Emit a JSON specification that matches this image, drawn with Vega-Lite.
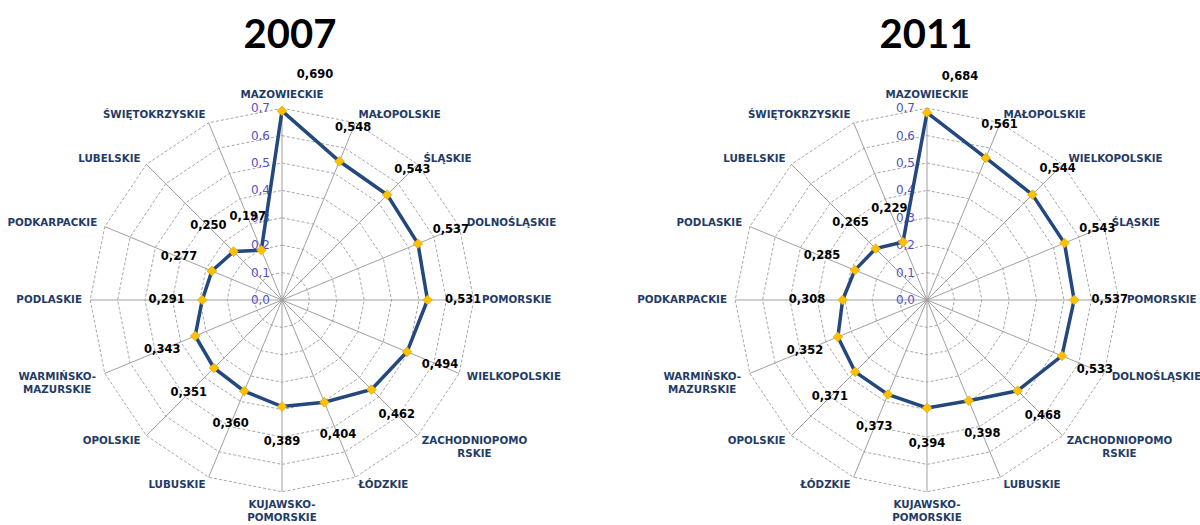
{
  "$schema": "https://vega.github.io/schema/vega-lite/v6.json",
  "padding": {"left": 0, "right": 0, "top": 16, "bottom": 0},
  "spacing": 0,
  "background": "white",
  "config": {
    "view": {"stroke": null},
    "locale": {"number": {"decimal": ",", "thousands": "\u00a0", "grouping": [3], "currency": ["", " zł"]}}
  },
  "resolve": {"scale": {"x": "independent", "y": "independent"}},
  "datasets": {
    "vals": [
      {"year": "2007", "i": 0, "region": "MAZOWIECKIE", "v": 0.690},
      {"year": "2007", "i": 1, "region": "MAŁOPOLSKIE", "v": 0.548},
      {"year": "2007", "i": 2, "region": "ŚLĄSKIE", "v": 0.543},
      {"year": "2007", "i": 3, "region": "DOLNOŚLĄSKIE", "v": 0.537},
      {"year": "2007", "i": 4, "region": "POMORSKIE", "v": 0.531},
      {"year": "2007", "i": 5, "region": "WIELKOPOLSKIE", "v": 0.494},
      {"year": "2007", "i": 6, "region": "ZACHODNIOPOMO\nRSKIE", "v": 0.462},
      {"year": "2007", "i": 7, "region": "ŁÓDZKIE", "v": 0.404},
      {"year": "2007", "i": 8, "region": "KUJAWSKO-\nPOMORSKIE", "v": 0.389},
      {"year": "2007", "i": 9, "region": "LUBUSKIE", "v": 0.360},
      {"year": "2007", "i": 10, "region": "OPOLSKIE", "v": 0.351},
      {"year": "2007", "i": 11, "region": "WARMIŃSKO-\nMAZURSKIE", "v": 0.343},
      {"year": "2007", "i": 12, "region": "PODLASKIE", "v": 0.291},
      {"year": "2007", "i": 13, "region": "PODKARPACKIE", "v": 0.277},
      {"year": "2007", "i": 14, "region": "LUBELSKIE", "v": 0.250},
      {"year": "2007", "i": 15, "region": "ŚWIĘTOKRZYSKIE", "v": 0.197},
      {"year": "2011", "i": 0, "region": "MAZOWIECKIE", "v": 0.684},
      {"year": "2011", "i": 1, "region": "MAŁOPOLSKIE", "v": 0.561},
      {"year": "2011", "i": 2, "region": "WIELKOPOLSKIE", "v": 0.544},
      {"year": "2011", "i": 3, "region": "ŚLĄSKIE", "v": 0.543},
      {"year": "2011", "i": 4, "region": "POMORSKIE", "v": 0.537},
      {"year": "2011", "i": 5, "region": "DOLNOŚLĄSKIE", "v": 0.533},
      {"year": "2011", "i": 6, "region": "ZACHODNIOPOMO\nRSKIE", "v": 0.468},
      {"year": "2011", "i": 7, "region": "LUBUSKIE", "v": 0.398},
      {"year": "2011", "i": 8, "region": "KUJAWSKO-\nPOMORSKIE", "v": 0.394},
      {"year": "2011", "i": 9, "region": "ŁÓDZKIE", "v": 0.373},
      {"year": "2011", "i": 10, "region": "OPOLSKIE", "v": 0.371},
      {"year": "2011", "i": 11, "region": "WARMIŃSKO-\nMAZURSKIE", "v": 0.352},
      {"year": "2011", "i": 12, "region": "PODKARPACKIE", "v": 0.308},
      {"year": "2011", "i": 13, "region": "PODLASKIE", "v": 0.285},
      {"year": "2011", "i": 14, "region": "LUBELSKIE", "v": 0.265},
      {"year": "2011", "i": 15, "region": "ŚWIĘTOKRZYSKIE", "v": 0.229}
    ],
    "rings": [
      {"level": 0.1, "k": [0,1,2,3,4,5,6,7,8,9,10,11,12,13,14,15]},
      {"level": 0.2, "k": [0,1,2,3,4,5,6,7,8,9,10,11,12,13,14,15]},
      {"level": 0.3, "k": [0,1,2,3,4,5,6,7,8,9,10,11,12,13,14,15]},
      {"level": 0.4, "k": [0,1,2,3,4,5,6,7,8,9,10,11,12,13,14,15]},
      {"level": 0.5, "k": [0,1,2,3,4,5,6,7,8,9,10,11,12,13,14,15]},
      {"level": 0.6, "k": [0,1,2,3,4,5,6,7,8,9,10,11,12,13,14,15]},
      {"level": 0.7, "k": [0,1,2,3,4,5,6,7,8,9,10,11,12,13,14,15]}
    ],
    "levels": [{"t": 0}, {"t": 0.1}, {"t": 0.2}, {"t": 0.3}, {"t": 0.4}, {"t": 0.5}, {"t": 0.6}, {"t": 0.7}]
  },
  "hconcat": [
    {
      "width": 600,
      "height": 469,
      "title": {"text": "2007", "fontSize": 40, "font": "Lato", "fontWeight": "bold", "color": "#000000", "dx": -10, "offset": 0, "anchor": "middle"},
      "encoding": {
        "x": {"field": "x", "type": "quantitative", "scale": {"domain": [-1.0292, 1.16058], "nice": false, "zero": false}, "axis": null},
        "y": {"field": "y", "type": "quantitative", "scale": {"domain": [-0.8212, 0.8905], "nice": false, "zero": false}, "axis": null}
      },
      "layer": [
        {
          "data": {"name": "rings"},
          "transform": [
            {"flatten": ["k"]},
            {"calculate": "datum.level*sin(datum.k*PI/8)", "as": "x"},
            {"calculate": "datum.level*cos(datum.k*PI/8)", "as": "y"}
          ],
          "mark": {"type": "line", "interpolate": "linear-closed", "stroke": "#A8A8A8", "strokeWidth": 1, "strokeDash": [3, 2]},
          "encoding": {"detail": {"field": "level"}, "order": {"field": "k"}}
        },
        {
          "data": {"name": "vals"},
          "transform": [
            {"filter": "datum.year == '2007'"},
            {"calculate": "0.7*sin(datum.i*PI/8)", "as": "x"},
            {"calculate": "0.7*cos(datum.i*PI/8)", "as": "y"}
          ],
          "mark": {"type": "rule", "stroke": "#A0A0A0", "strokeWidth": 1},
          "encoding": {"x": {"datum": 0}, "y": {"datum": 0}, "x2": {"field": "x"}, "y2": {"field": "y"}}
        },
        {
          "data": {"name": "levels"},
          "transform": [
            {"calculate": "0", "as": "x"},
            {"calculate": "datum.t", "as": "y"}
          ],
          "mark": {"type": "text", "align": "right", "baseline": "middle", "dx": -12, "font": "DejaVu Sans", "fontSize": 12, "fill": "#5A4FC0"},
          "encoding": {"text": {"field": "t", "type": "quantitative", "format": ".1f"}}
        },
        {
          "data": {"name": "vals"},
          "transform": [
            {"filter": "datum.year == '2007'"},
            {"calculate": "datum.v*sin(datum.i*PI/8)", "as": "x"},
            {"calculate": "datum.v*cos(datum.i*PI/8)", "as": "y"}
          ],
          "mark": {"type": "line", "interpolate": "linear-closed", "stroke": "#24487E", "strokeWidth": 3.5},
          "encoding": {"order": {"field": "i"}}
        },
        {
          "data": {"name": "vals"},
          "transform": [
            {"filter": "datum.year == '2007'"},
            {"calculate": "datum.v*sin(datum.i*PI/8)", "as": "x"},
            {"calculate": "datum.v*cos(datum.i*PI/8)", "as": "y"}
          ],
          "mark": {"type": "point", "shape": "diamond", "filled": true, "size": 95, "fill": "#FFC000", "stroke": "#D9A300", "strokeWidth": 0.6, "opacity": 1},
          "encoding": {}
        },
        {
          "data": {"name": "vals"},
          "transform": [
            {"filter": "datum.year == '2007'"},
            {"calculate": "0.73*sin(datum.i*PI/8)", "as": "x"},
            {"calculate": "0.73*cos(datum.i*PI/8)", "as": "y"}
          ],
          "mark": {
            "type": "text", "font": "DejaVu Sans", "fontWeight": "bold", "fontSize": 10.3, "fill": "#1F3B66", "lineBreak": "\n", "lineHeight": 13,
            "align": {"expr": "(datum.i==0||datum.i==8||datum.i==6||datum.i==11) ? 'center' : (datum.i<8 ? 'left' : 'right')"},
            "baseline": {"expr": "datum.i==0 ? 'bottom' : (datum.i==8 ? 'top' : 'middle')"},
            "dx": {"expr": "datum.i==6 ? 51 : (datum.i==11 ? -40 : 0)"}
          },
          "encoding": {"text": {"field": "region", "type": "nominal"}}
        },
        {
          "data": {"name": "vals"},
          "transform": [
            {"filter": "datum.year == '2007' && datum.i != 0"},
            {"calculate": "(datum.v+0.13)*sin(datum.i*PI/8)", "as": "x"},
            {"calculate": "(datum.v+0.13)*cos(datum.i*PI/8)", "as": "y"}
          ],
          "mark": {"type": "text", "font": "DejaVu Sans", "fontWeight": "bold", "fontSize": 11.5, "fill": "#000000", "align": "center", "baseline": "middle"},
          "encoding": {"text": {"field": "v", "type": "quantitative", "format": ".3f"}}
        },
        {
          "data": {"name": "vals"},
          "transform": [
            {"filter": "datum.year == '2007' && datum.i == 0"},
            {"calculate": "(datum.v+0.13)*sin(datum.i*PI/8)", "as": "x"},
            {"calculate": "(datum.v+0.13)*cos(datum.i*PI/8)", "as": "y"}
          ],
          "mark": {"type": "text", "font": "DejaVu Sans", "fontWeight": "bold", "fontSize": 11.5, "fill": "#000000", "align": "center", "baseline": "middle", "dx": 33},
          "encoding": {"text": {"field": "v", "type": "quantitative", "format": ".3f"}}
        }
      ]
    },
    {
      "width": 600,
      "height": 469,
      "title": {"text": "2011", "fontSize": 40, "font": "Lato", "fontWeight": "bold", "color": "#000000", "dx": 26, "offset": 0, "anchor": "middle"},
      "encoding": {
        "x": {"field": "x", "type": "quantitative", "scale": {"domain": [-1.19343, 0.99635], "nice": false, "zero": false}, "axis": null},
        "y": {"field": "y", "type": "quantitative", "scale": {"domain": [-0.8212, 0.8905], "nice": false, "zero": false}, "axis": null}
      },
      "layer": [
        {
          "data": {"name": "rings"},
          "transform": [
            {"flatten": ["k"]},
            {"calculate": "datum.level*sin(datum.k*PI/8)", "as": "x"},
            {"calculate": "datum.level*cos(datum.k*PI/8)", "as": "y"}
          ],
          "mark": {"type": "line", "interpolate": "linear-closed", "stroke": "#A8A8A8", "strokeWidth": 1, "strokeDash": [3, 2]},
          "encoding": {"detail": {"field": "level"}, "order": {"field": "k"}}
        },
        {
          "data": {"name": "vals"},
          "transform": [
            {"filter": "datum.year == '2011'"},
            {"calculate": "0.7*sin(datum.i*PI/8)", "as": "x"},
            {"calculate": "0.7*cos(datum.i*PI/8)", "as": "y"}
          ],
          "mark": {"type": "rule", "stroke": "#A0A0A0", "strokeWidth": 1},
          "encoding": {"x": {"datum": 0}, "y": {"datum": 0}, "x2": {"field": "x"}, "y2": {"field": "y"}}
        },
        {
          "data": {"name": "levels"},
          "transform": [
            {"calculate": "0", "as": "x"},
            {"calculate": "datum.t", "as": "y"}
          ],
          "mark": {"type": "text", "align": "right", "baseline": "middle", "dx": -12, "font": "DejaVu Sans", "fontSize": 12, "fill": "#5A4FC0"},
          "encoding": {"text": {"field": "t", "type": "quantitative", "format": ".1f"}}
        },
        {
          "data": {"name": "vals"},
          "transform": [
            {"filter": "datum.year == '2011'"},
            {"calculate": "datum.v*sin(datum.i*PI/8)", "as": "x"},
            {"calculate": "datum.v*cos(datum.i*PI/8)", "as": "y"}
          ],
          "mark": {"type": "line", "interpolate": "linear-closed", "stroke": "#24487E", "strokeWidth": 3.5},
          "encoding": {"order": {"field": "i"}}
        },
        {
          "data": {"name": "vals"},
          "transform": [
            {"filter": "datum.year == '2011'"},
            {"calculate": "datum.v*sin(datum.i*PI/8)", "as": "x"},
            {"calculate": "datum.v*cos(datum.i*PI/8)", "as": "y"}
          ],
          "mark": {"type": "point", "shape": "diamond", "filled": true, "size": 95, "fill": "#FFC000", "stroke": "#D9A300", "strokeWidth": 0.6, "opacity": 1},
          "encoding": {}
        },
        {
          "data": {"name": "vals"},
          "transform": [
            {"filter": "datum.year == '2011'"},
            {"calculate": "0.73*sin(datum.i*PI/8)", "as": "x"},
            {"calculate": "0.73*cos(datum.i*PI/8)", "as": "y"}
          ],
          "mark": {
            "type": "text", "font": "DejaVu Sans", "fontWeight": "bold", "fontSize": 10.3, "fill": "#1F3B66", "lineBreak": "\n", "lineHeight": 13,
            "align": {"expr": "(datum.i==0||datum.i==8||datum.i==6||datum.i==11) ? 'center' : (datum.i<8 ? 'left' : 'right')"},
            "baseline": {"expr": "datum.i==0 ? 'bottom' : (datum.i==8 ? 'top' : 'middle')"},
            "dx": {"expr": "datum.i==6 ? 51 : (datum.i==11 ? -40 : 0)"}
          },
          "encoding": {"text": {"field": "region", "type": "nominal"}}
        },
        {
          "data": {"name": "vals"},
          "transform": [
            {"filter": "datum.year == '2011' && datum.i != 0"},
            {"calculate": "(datum.v+0.13)*sin(datum.i*PI/8)", "as": "x"},
            {"calculate": "(datum.v+0.13)*cos(datum.i*PI/8)", "as": "y"}
          ],
          "mark": {"type": "text", "font": "DejaVu Sans", "fontWeight": "bold", "fontSize": 11.5, "fill": "#000000", "align": "center", "baseline": "middle"},
          "encoding": {"text": {"field": "v", "type": "quantitative", "format": ".3f"}}
        },
        {
          "data": {"name": "vals"},
          "transform": [
            {"filter": "datum.year == '2011' && datum.i == 0"},
            {"calculate": "(datum.v+0.13)*sin(datum.i*PI/8)", "as": "x"},
            {"calculate": "(datum.v+0.13)*cos(datum.i*PI/8)", "as": "y"}
          ],
          "mark": {"type": "text", "font": "DejaVu Sans", "fontWeight": "bold", "fontSize": 11.5, "fill": "#000000", "align": "center", "baseline": "middle", "dx": 33},
          "encoding": {"text": {"field": "v", "type": "quantitative", "format": ".3f"}}
        }
      ]
    }
  ]
}
